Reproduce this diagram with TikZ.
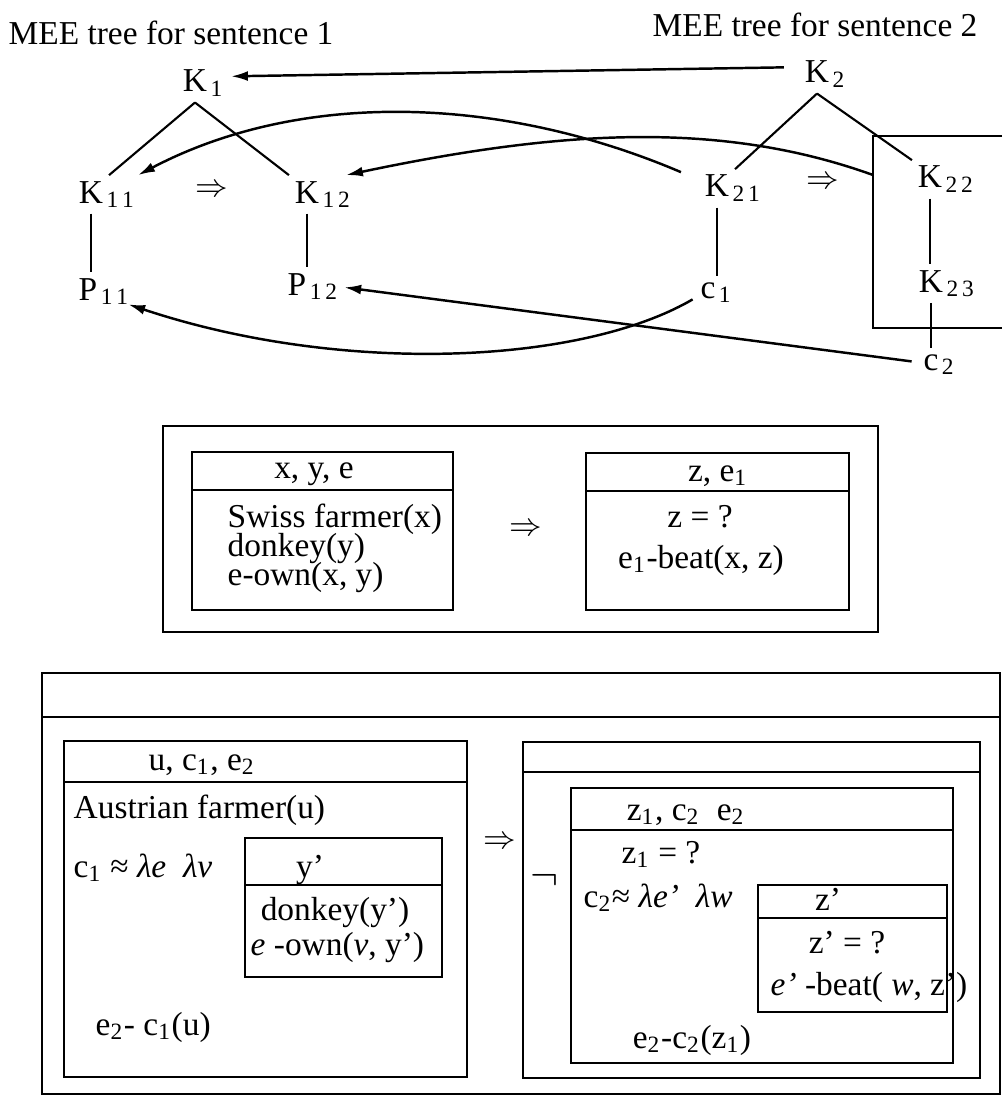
\documentclass[tikz,border=0pt]{standalone}
\usepackage{fontspec}
\setmainfont{Liberation Serif}
\usetikzlibrary{arrows.meta,calc}

\tikzset{
  tn/.style={anchor=base, inner sep=1.5pt},
  txt/.style={anchor=base, inner sep=0pt},
  txtl/.style={anchor=base west, inner sep=0pt},
  treeline/.style={line width=0.6pt},
  backarr/.style={->, line width=0.7pt},
  drs/.style={line width=0.8pt},
}

\begin{document}
\begin{tikzpicture}[x=0.01cm, y=-0.01cm, >={Latex[length=4.8pt,width=2.8pt]},
    font=\fontsize{9.5}{11}\selectfont]
    \useasboundingbox (0,0) rectangle (1002,1097);

    % the two MEE trees
    \node[txtl] (s1) at (8,45) {MEE tree for sentence 1};
    \node[txtl] (s2) at (652,37) {MEE tree for sentence 2};
    \node[tn] (k1) at (195,92) {K\rlap{\kern1pt\textsubscript{1}}};
    \node[tn] (k11) at (91,203) {K\rlap{\kern1pt\textsubscript{1\,1}}};
    \node[tn] (k12) at (307,203) {K\rlap{\kern1pt\textsubscript{1\,2}}};
    \node[tn] (p11) at (88,300) {P\rlap{\kern1pt\textsubscript{1\,1}}};
    \node[tn] (p12) at (297,295) {P\rlap{\kern1pt\textsubscript{1\,2}}};
    \node (i1) at (212,191) {$\Rightarrow$};
    \node[tn] (k2) at (817,83) {K\rlap{\kern1pt\textsubscript{2}}};
    \node[tn] (k21) at (717,197) {K\rlap{\kern1pt\textsubscript{2\,1}}};
    \node[tn] (k22) at (930,188) {K\rlap{\kern1pt\textsubscript{2\,2}}};
    \node[tn] (k23) at (931,292) {K\rlap{\kern1pt\textsubscript{2\,3}}};
    \node[tn] (c1) at (708,298) {c\rlap{\kern1pt\textsubscript{1}}};
    \node[tn] (c2) at (931,370) {c\rlap{\kern1pt\textsubscript{2}}};
    \node (i2) at (823,183) {$\Rightarrow$};
    \draw[treeline] (1002,136) -| (873,328) -- (1002,328);
    \coordinate (frame) at (873,175);

    \path[treeline]
    (k1.south) edge (k11.north east)
    (k1.south) edge (k12.north west)
    (k11.south) edge (k11.south |- p11.north)
    (k12.south) edge (k12.south |- p12.north)
    (k2.south) edge (k21.north east)
    (k2.south) edge (k22.north west)
    (k21.south) edge (k21.south |- c1.north)
    (k22.south) edge (k22.south |- k23.north)
    (k23.south) edge (k23.south |- c2.north)
    ;

    \draw[backarr] ($(k2.west)+(-15,-7)$) -- ($(k1.east)+(18,-7)$);
    \draw[backarr] ($(k21.north west)+(-18,3)$) .. controls (500,95) and (300,90) .. ($(k11.north east)+(29,0)$);
    \draw[backarr] (frame) .. controls (720,120) and (560,130) .. ($(k12.north east)+(21,0)$);
    \draw[backarr] ($(c2.west)+(-6,-3)$) -- ($(p12.east)+(32,1)$);
    \draw[backarr] ($(c1.west)+(-2,7)$) .. controls (580,365) and (340,375) .. ($(p11.east)+(25,13)$);

    % DRS for sentence 1
    \draw[drs] (163,426) rectangle (878,632);
    \draw[drs] (192,452) rectangle (453,610) (192,490) -- (453,490);
    \node[txt] (u1) at (314,478) {x, y, e};
    \node[txtl] (f1) at (227,527) {Swiss farmer(x)};
    \node[txtl] (f2) at (227,556) {donkey(y)};
    \node[txtl] (f3) at (227,585) {e-own(x, y)};
    \node (i3) at (526,530) {$\Rightarrow$};
    \draw[drs] (586,453) rectangle (849,610) (586,491) -- (849,491);
    \node[txt] (u2) at (718,481) {z, e\textsubscript{1}};
    \node[txt] (g1) at (700,527) {z = ?};
    \node[txt] (g2) at (701,568) {e\textsubscript{1}-beat(x, z)};

    % DRS for sentence 2
    \draw[drs] (42,673) rectangle (1000,1094) (42,717) -- (1000,717);
    \draw[drs] (64,741) rectangle (467,1077) (64,782) -- (467,782);
    \node[txt] (u3) at (202,770) {u, c\textsubscript{1}, e\textsubscript{2}};
    \node[txtl] (h1) at (73,818) {Austrian farmer(u)};
    \node[txtl] (h2) at (73,877) {c\textsubscript{1} ≈ \textit{λe}\enspace\textit{λv}};
    \draw[drs] (245,838) rectangle (442,977) (245,885) -- (442,885);
    \node[txt] (u4) at (310,877) {y'};
    \node[txt] (h3) at (335,920) {donkey(y')};
    \node[txtl] (h4) at (250,955) {\textit{e} -own(\textit{v}, y')};
    \node[txtl] (h5) at (95,1035) {e\textsubscript{2}- c\textsubscript{1}(u)};
    \node (i4) at (500,843) {$\Rightarrow$};
    \draw[drs] (523,742) rectangle (980,1078) (523,772) -- (980,772);
    \node[font=\fontsize{12.5}{13}\selectfont] (neg) at (545,880) {$\neg$};
    \draw[drs] (571,788) rectangle (953,1063) (571,830) -- (953,830);
    \node[txt] (u5) at (686,820) {z\textsubscript{1}, c\textsubscript{2}\enspace e\textsubscript{2}};
    \node[txt] (j1) at (661,863) {z\textsubscript{1} = ?};
    \node[txtl] (j2) at (583,907) {c\textsubscript{2}≈ \textit{λe'}\enspace\textit{λw}};
    \draw[drs] (758,885) rectangle (947,1012) (758,918) -- (947,918);
    \node[txt] (u6) at (828,910) {z'};
    \node[txt] (j3) at (847,953) {z' = ?};
    \node[txtl] (j4) at (770,995) {\textit{e'} -beat( \textit{w}, z')};
    \node[txt] (j5) at (692,1048) {e\textsubscript{2}-c\textsubscript{2}(z\textsubscript{1})};
\end{tikzpicture}
\end{document}
